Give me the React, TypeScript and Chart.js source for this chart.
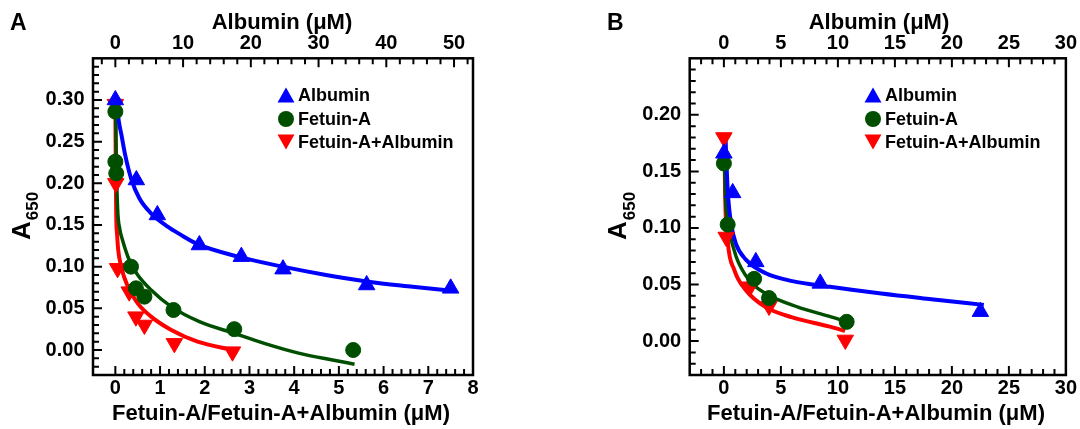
import React, { useEffect, useRef } from 'react';
import { Chart, registerables } from 'chart.js';

Chart.register(...registerables);

const FONT = '"Liberation Sans", Arial, Helvetica, sans-serif';
const BLUE = '#0000ff';
const GREEN = '#004f00';
const RED = '#ff0000';

// ---------- Panel A data ----------
// Albumin (top axis, µM)
const aAlbuminX = [0, 3.1, 6.2, 12.4, 18.6, 24.75, 37.1, 49.5];
const aAlbuminY = [0.300, 0.204, 0.162, 0.126, 0.112, 0.097, 0.078, 0.074];
// Fetuin-A (bottom axis, µM)
const aFetuinX = [0, 0, 0.02, 0.35, 0.46, 0.65, 1.30, 2.66, 5.32];
const aFetuinY = [0.286, 0.226, 0.212, 0.100, 0.074, 0.064, 0.048, 0.025, 0.000];
// Fetuin-A+Albumin (bottom axis, µM)
const aMixX = [0, 0.01, 0.05, 0.31, 0.46, 0.65, 1.32, 2.62];
const aMixY = [0.295, 0.200, 0.098, 0.070, 0.040, 0.030, 0.008, -0.002];
// fitted curves
const aAlbuminFitX = [0.15, 0.5, 0.9, 1.4, 2.32, 3.54, 5.27, 7.72, 9.5, 12.15, 18.1, 24.7, 31.1, 37.3, 43.9, 49.8];
const aAlbuminFitY = [0.300, 0.275, 0.258, 0.236, 0.206, 0.182, 0.164, 0.148, 0.139, 0.127, 0.112, 0.100, 0.090, 0.082, 0.076, 0.071];
const aFetuinFitX = [0.005, 0.02, 0.05, 0.1, 0.16, 0.31, 0.50, 0.80, 1.25, 1.88, 2.66, 3.33, 4.12, 4.86, 5.35];
const aFetuinFitY = [0.292, 0.230, 0.170, 0.145, 0.132, 0.108, 0.090, 0.072, 0.052, 0.034, 0.020, 0.008, -0.004, -0.012, -0.017];
const aMixFitX = [0.0, 0.01, 0.02, 0.04, 0.06, 0.13, 0.28, 0.50, 0.80, 1.25, 1.84, 2.62];
const aMixFitY = [0.300, 0.210, 0.160, 0.138, 0.122, 0.100, 0.076, 0.056, 0.040, 0.024, 0.010, 0.000];

// ---------- Panel B data ----------
const bAlbuminX = [0, 0.77, 2.8, 8.45, 22.5];
const bAlbuminY = [0.166, 0.131, 0.070, 0.051, 0.026];
const bFetuinX = [0, 0.33, 2.65, 3.96, 10.77];
const bFetuinY = [0.157, 0.103, 0.055, 0.038, 0.017];
const bMixX = [0, 0.2, 2.3, 3.96, 10.65];
const bMixY = [0.180, 0.092, 0.048, 0.031, 0.001];
const bAlbuminFitX = [0.15, 0.33, 0.63, 1.06, 1.93, 3.67, 6.0, 9.3, 13.8, 18.2, 22.8];
const bAlbuminFitY = [0.178, 0.134, 0.104, 0.086, 0.072, 0.060, 0.053, 0.048, 0.042, 0.037, 0.032];
const bFetuinFitX = [0.05, 0.15, 0.48, 1.06, 2.2, 3.67, 6.5, 9.2, 10.77];
const bFetuinFitY = [0.158, 0.125, 0.098, 0.075, 0.054, 0.042, 0.030, 0.022, 0.017];
const bMixFitX = [0.05, 0.1, 0.33, 0.91, 1.93, 3.67, 6.0, 9.2, 10.63];
const bMixFitY = [0.178, 0.134, 0.089, 0.063, 0.045, 0.030, 0.021, 0.013, 0.009];

// ---------- labels ----------
const legendLabels = ['Albumin', 'Fetuin-A', 'Fetuin-A+Albumin'];
const bottomTitle = 'Fetuin-A/Fetuin-A+Albumin (\u03bcM)';
const topTitle = 'Albumin (\u03bcM)';
const yTitleMain = 'A';
const yTitleSub = '650';

const pts = (xs: number[], ys: number[]) => xs.map((x, i) => ({ x, y: ys[i] }));
const isMult = (v: number, step: number) => Math.abs(v / step - Math.round(v / step)) < 1e-6;

interface AxisSpec { min: number; max: number; major: number; minor: number; tickFrom: number; tickTo: number; }
interface PanelSpec {
  letter: string;
  x: AxisSpec; x2: AxisSpec; y: AxisSpec; yLabelMax: number;
  leftWidth: number; rightPad: number;
  legendMarkerX: number; legendTextX: number; legendY: number[];
  bottomTitleX: number; topTitleX: number; yTitleBaseX: number; letterX: number;
  albumin: [number[], number[]]; fetuin: [number[], number[]]; mix: [number[], number[]];
  albuminFit: [number[], number[]]; fetuinFit: [number[], number[]]; mixFit: [number[], number[]];
}

const panelA: PanelSpec = {
  letter: 'A',
  x: { min: -0.5, max: 8, major: 1, minor: 0.2, tickFrom: 0, tickTo: 8 },
  x2: { min: -3.3, max: 52.8, major: 10, minor: 2, tickFrom: -2, tickTo: 52 },
  y: { min: -0.03, max: 0.35, major: 0.05, minor: 0.01, tickFrom: -0.03, tickTo: 0.35 },
  yLabelMax: 0.30,
  leftWidth: 93, rightPad: 67,
  legendMarkerX: 286, legendTextX: 298, legendY: [95, 119, 142],
  bottomTitleX: 281, topTitleX: 282, yTitleBaseX: 29.5, letterX: 10,
  albumin: [aAlbuminX, aAlbuminY], fetuin: [aFetuinX, aFetuinY], mix: [aMixX, aMixY],
  albuminFit: [aAlbuminFitX, aAlbuminFitY], fetuinFit: [aFetuinFitX, aFetuinFitY], mixFit: [aMixFitX, aMixFitY],
};

const panelB: PanelSpec = {
  letter: 'B',
  x: { min: -3, max: 30, major: 5, minor: 1, tickFrom: -2, tickTo: 30 },
  x2: { min: -3, max: 30, major: 5, minor: 1, tickFrom: -2, tickTo: 30 },
  y: { min: -0.03, max: 0.25, major: 0.05, minor: 0.01, tickFrom: -0.03, tickTo: 0.25 },
  yLabelMax: 0.20,
  leftWidth: 149.7, rightPad: 11,
  legendMarkerX: 333, legendTextX: 345, legendY: [95, 119, 142],
  bottomTitleX: 336, topTitleX: 339, yTitleBaseX: 86, letterX: 67,
  albumin: [bAlbuminX, bAlbuminY], fetuin: [bFetuinX, bFetuinY], mix: [bMixX, bMixY],
  albuminFit: [bAlbuminFitX, bAlbuminFitY], fetuinFit: [bFetuinFitX, bFetuinFitY], mixFit: [bMixFitX, bMixFitY],
};

function drawMarker(ctx: CanvasRenderingContext2D, kind: string, x: number, y: number, color: string) {
  ctx.fillStyle = color;
  ctx.beginPath();
  if (kind === 'up') {
    ctx.moveTo(x, y - 7.5); ctx.lineTo(x + 8.5, y + 7.5); ctx.lineTo(x - 8.5, y + 7.5);
  } else if (kind === 'down') {
    ctx.moveTo(x, y + 7.5); ctx.lineTo(x + 8.5, y - 7.5); ctx.lineTo(x - 8.5, y - 7.5);
  } else {
    ctx.arc(x, y, 8, 0, Math.PI * 2);
  }
  ctx.closePath();
  ctx.fill();
}

function makeDecor(spec: PanelSpec) {
  return {
    id: 'decor' + spec.letter,
    afterDraw(chart: any) {
      const ctx: CanvasRenderingContext2D = chart.ctx;
      const { left, right, top, bottom } = chart.chartArea;
      ctx.save();
      ctx.strokeStyle = '#000';
      ctx.lineWidth = 2.5;
      ctx.strokeRect(left, top, right - left, bottom - top);

      ctx.lineWidth = 2;
      const ticks = (scaleId: string, a: AxisSpec, side: string) => {
        const scale = chart.scales[scaleId];
        const n0 = Math.ceil(a.tickFrom / a.minor - 1e-9);
        const n1 = Math.floor(a.tickTo / a.minor + 1e-9);
        ctx.beginPath();
        for (let i = n0; i <= n1; i++) {
          const v = i * a.minor;
          const len = isMult(v, a.major) ? 9 : 6;
          const p = scale.getPixelForValue(v);
          if (side === 'bottom') {
            if (p < left + 2 || p > right - 2) continue;
            ctx.moveTo(p, bottom); ctx.lineTo(p, bottom - len);
          } else if (side === 'top') {
            if (p < left + 2 || p > right - 2) continue;
            ctx.moveTo(p, top); ctx.lineTo(p, top + len);
          } else {
            if (p < top + 2 || p > bottom - 2) continue;
            ctx.moveTo(left, p); ctx.lineTo(left + len, p);
          }
        }
        ctx.stroke();
      };
      ticks('x', spec.x, 'bottom');
      ticks('x2', spec.x2, 'top');
      ticks('y', spec.y, 'left');

      // legend
      const kinds = ['up', 'circle', 'down'];
      const colors = [BLUE, GREEN, RED];
      ctx.font = `bold 18px ${FONT}`;
      ctx.textBaseline = 'middle';
      ctx.textAlign = 'left';
      for (let i = 0; i < 3; i++) {
        drawMarker(ctx, kinds[i], spec.legendMarkerX, spec.legendY[i], colors[i]);
        ctx.fillStyle = '#000';
        ctx.fillText(legendLabels[i], spec.legendTextX, spec.legendY[i] + 1);
      }

      // axis titles
      ctx.textBaseline = 'alphabetic';
      ctx.textAlign = 'center';
      ctx.font = `bold 22px ${FONT}`;
      ctx.fillText(bottomTitle, spec.bottomTitleX, 420);
      ctx.fillText(topTitle, spec.topTitleX, 28.5);

      // panel letter
      ctx.textAlign = 'left';
      ctx.font = `bold 23px ${FONT}`;
      ctx.fillText(spec.letter, spec.letterX, 30);

      // y title, rotated, with subscript
      ctx.save();
      ctx.translate(spec.yTitleBaseX, 240);
      ctx.rotate(-Math.PI / 2);
      ctx.textAlign = 'left';
      ctx.font = `bold 26px ${FONT}`;
      ctx.fillText(yTitleMain, 0, 0);
      const w = ctx.measureText(yTitleMain).width;
      ctx.font = `bold 17px ${FONT}`;
      ctx.fillText(yTitleSub, w + 1, 8.5);
      ctx.restore();

      ctx.restore();
    },
  };
}

function buildConfig(spec: PanelSpec): any {
  const tickFont = { family: FONT, size: 20, weight: 'bold' as const };
  const xLabel = (a: AxisSpec) => (v: any) => {
    const n = Number(v);
    return n >= -1e-9 && isMult(n, a.major) ? String(Math.round(n)) : '';
  };
  const curve = (d: [number[], number[]], color: string, width: number, axis: string) => ({
    data: pts(d[0], d[1]),
    xAxisID: axis,
    showLine: true,
    pointRadius: 0,
    borderColor: color,
    backgroundColor: color,
    borderWidth: width,
    cubicInterpolationMode: 'monotone',
    fill: false,
    order: 2,
  });
  const marks = (d: [number[], number[]], color: string, style: string, rot: number, r: number, axis: string) => ({
    data: pts(d[0], d[1]),
    xAxisID: axis,
    showLine: false,
    pointStyle: style,
    pointRotation: rot,
    pointRadius: r,
    pointBackgroundColor: color,
    pointBorderColor: color,
    pointBorderWidth: 1,
    order: 1,
  });
  return {
    type: 'scatter',
    data: {
      datasets: [
        curve(spec.albuminFit, BLUE, 4, 'x2'),
        curve(spec.fetuinFit, GREEN, 3.5, 'x'),
        curve(spec.mixFit, RED, 4, 'x'),
        marks(spec.albumin, BLUE, 'triangle', 0, 9.5, 'x2'),
        marks(spec.fetuin, GREEN, 'circle', 0, 7.5, 'x'),
        marks(spec.mix, RED, 'triangle', 180, 9.5, 'x'),
      ],
    },
    options: {
      responsive: false,
      animation: false,
      devicePixelRatio: 1,
      layout: { padding: { left: 0, right: spec.rightPad, top: 0, bottom: 0 } },
      plugins: { legend: { display: false }, tooltip: { enabled: false } },
      scales: {
        x: {
          type: 'linear', position: 'bottom', min: spec.x.min, max: spec.x.max,
          grid: { display: false, drawTicks: false }, border: { display: false },
          afterFit: (s: any) => { s.height = 54; },
          ticks: { stepSize: spec.x.major, includeBounds: false, autoSkip: false, maxRotation: 0, padding: 1, color: '#000', font: tickFont, callback: xLabel(spec.x) },
        },
        x2: {
          type: 'linear', position: 'top', min: spec.x2.min, max: spec.x2.max,
          grid: { display: false, drawTicks: false }, border: { display: false },
          afterFit: (s: any) => { s.height = 58.3; },
          ticks: { stepSize: spec.x2.major, includeBounds: false, autoSkip: false, maxRotation: 0, padding: 3, color: '#000', font: tickFont, callback: xLabel(spec.x2) },
        },
        y: {
          type: 'linear', position: 'left', min: spec.y.min, max: spec.y.max,
          grid: { display: false, drawTicks: false }, border: { display: false },
          afterFit: (s: any) => { s.width = spec.leftWidth; },
          ticks: {
            stepSize: spec.y.major, includeBounds: false, autoSkip: false, padding: 8.5, color: '#000', font: tickFont,
            callback: (v: any) => {
              const n = Number(v);
              if (n < -1e-9 || n > spec.yLabelMax + 1e-9 || !isMult(n, spec.y.major)) return '';
              return Math.abs(n) < 1e-9 ? '0.00' : n.toFixed(2);
            },
          },
        },
      },
    },
    plugins: [makeDecor(spec)],
  };
}

function Panel({ spec, left }: { spec: PanelSpec; left: number }) {
  const ref = useRef<HTMLCanvasElement | null>(null);
  useEffect(() => {
    if (!ref.current) return;
    const chart = new Chart(ref.current, buildConfig(spec));
    return () => chart.destroy();
  }, [spec]);
  return (
    <canvas
      ref={ref}
      width={540}
      height={429}
      style={{ position: 'absolute', left, top: 0, width: 540, height: 429 }}
    />
  );
}

export default function App() {
  return (
    <div style={{ position: 'fixed', left: 0, top: 0, width: 1080, height: 429, background: '#fff', overflow: 'hidden' }}>
      <Panel spec={panelA} left={0} />
      <Panel spec={panelB} left={540} />
    </div>
  );
}
